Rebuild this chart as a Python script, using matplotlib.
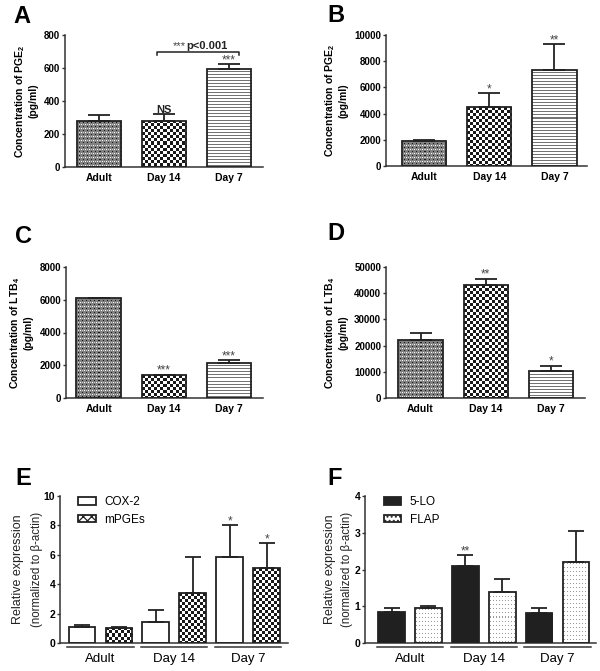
import numpy as np
import matplotlib
matplotlib.use('Agg')
import matplotlib.pyplot as plt
import matplotlib.transforms as mtransforms
from matplotlib.patches import Patch

plt.rcParams['font.family'] = 'Liberation Sans'
plt.rcParams['mathtext.default'] = 'regular'
plt.rcParams['hatch.linewidth'] = 0.9

INK = '#222222'
groups = ['Adult', 'Day 14', 'Day 7']

# A - PGE2
pge2_a = [280, 280, 595]
pge2_a_sem = [35, 40, 30]
pge2_a_marks = ['', 'NS', '***']
# B - PGE2
pge2_b = [1900, 4500, 7350]
pge2_b_sem = [80, 1050, 1950]
pge2_b_marks = ['', '*', '**']
# C - LTB4
ltb4_c = [6100, 1380, 2150]
ltb4_c_sem = [30, 50, 150]
ltb4_c_marks = ['', '***', '***']
# D - LTB4
ltb4_d = [22000, 43000, 10200]
ltb4_d_sem = [2800, 2500, 2200]
ltb4_d_marks = ['', '**', '*']
# E - relative expression
cox2 = [1.1, 1.42, 5.82]
cox2_sem = [0.1, 0.8, 2.2]
cox2_marks = ['', '', '*']
mpges = [1.03, 3.37, 5.07]
mpges_sem = [0.03, 2.5, 1.72]
mpges_marks = ['', '', '*']
# F - relative expression
lo5 = [0.85, 2.1, 0.81]
lo5_sem = [0.09, 0.29, 0.14]
lo5_marks = ['', '**', '']
flap = [0.95, 1.4, 2.2]
flap_sem = [0.07, 0.33, 0.85]
flap_marks = ['', '', '']

fig = plt.figure(figsize=(6.0, 6.71), dpi=100)


def box(left, right, top, bottom):
    # pixel box -> figure fraction
    return [left / 600, 1 - bottom / 671, (right - left) / 600, (bottom - top) / 671]


def pattern(kind, w, h):
    yy, xx = np.mgrid[0:h, 0:w]
    if kind == 'grain':
        img = np.full((h, w), 0.5)
        img[(xx % 4 == 0) & (yy % 4 == 0)] = 1.0
        img[(xx % 4 == 2) & (yy % 4 == 2)] = 0.1
        img[(xx % 4 == 2) & (yy % 4 == 0)] = 0.8
    elif kind == 'checker':
        img = np.where((xx // 3 + yy // 3) % 2 == 0, 0.1, 1.0)
    elif kind == 'lines':
        img = np.where(yy % 3 == 0, 0.45, 1.0)
    elif kind == 'dots':
        img = np.ones((h, w))
        img[(xx % 3 == 1) & (yy % 4 == 1)] = 0.6
    elif kind == 'solid':
        img = np.full((h, w), 0.13)
    else:
        img = np.ones((h, w))
    return img


def fill_bars(ax, bars, kinds):
    for bar, kind in zip(bars, kinds):
        bb = bar.get_window_extent()
        w = max(int(round(bb.width)), 1)
        h = max(int(round(bb.height)), 1)
        x0, y0 = bar.get_x(), bar.get_y()
        im = ax.imshow(pattern(kind, w, h), cmap='gray', vmin=0, vmax=1,
                       extent=(x0, x0 + bar.get_width(), y0, y0 + bar.get_height()),
                       aspect='auto', interpolation='nearest', zorder=2)
        im.set_clip_path(bar)


def draw_bars(ax, x, vals, sems, width, capsize):
    bars = ax.bar(x, vals, width, facecolor='none', edgecolor=INK, lw=1.3, zorder=3)
    ax.errorbar(x, vals, yerr=[np.zeros(len(vals)), sems], fmt='none', ecolor=INK,
                elinewidth=1.3, capsize=capsize, capthick=1.3, zorder=4)
    return bars


def add_marks(ax, x, vals, sems, marks):
    for xi, v, s, m in zip(x, vals, sems, marks):
        if not m:
            continue
        if m == 'NS':
            ax.annotate(m, (xi, v + s), xytext=(0, 1), textcoords='offset points',
                        ha='center', va='baseline', fontsize=8, fontweight='bold', color=INK)
        else:
            ax.annotate(m, (xi, v + s), xytext=(0, -1.5), textcoords='offset points',
                        ha='center', va='bottom', fontsize=8.5, color='#444444')


def style_axes(ax):
    for s in ['top', 'right']:
        ax.spines[s].set_visible(False)
    for s in ['left', 'bottom']:
        ax.spines[s].set_linewidth(1.1)
        ax.spines[s].set_color('#333333')
    ax.tick_params(axis='x', length=0)
    ax.tick_params(axis='y', length=2.5, width=1, color='#333333', pad=1)


def conc_panel(rect, xlim, vals, sems, marks, ymax, ystep, ylabel):
    ax = fig.add_axes(rect)
    x = np.arange(3)
    bars = draw_bars(ax, x, vals, sems, 0.68, 8)
    ax.set_xlim(*xlim)
    ax.set_ylim(0, ymax)
    fill_bars(ax, bars, ['grain', 'checker', 'lines'])
    ax.set_xlim(*xlim)
    ax.set_ylim(0, ymax)
    ax.set_yticks(np.arange(0, ymax + 1, ystep))
    ax.set_xticks(x)
    ax.set_xticklabels(groups, fontsize=7.5, fontweight='bold')
    for t in ax.get_yticklabels():
        t.set_fontsize(7)
        t.set_fontweight('bold')
    style_axes(ax)
    ax.tick_params(axis='x', pad=4)
    ax.set_ylabel(ylabel, fontsize=7.5, fontweight='bold', labelpad=4)
    add_marks(ax, x, vals, sems, marks)
    return ax


def expr_panel(rect, xlim, a, a_sem, a_marks, b, b_sem, b_marks, kinds, names, ymax, lab_x):
    ax = fig.add_axes(rect)
    x = np.arange(3)
    xa, xb = x - 0.25, x + 0.25
    bars_a = draw_bars(ax, xa, a, a_sem, 0.36, 5.5)
    bars_b = draw_bars(ax, xb, b, b_sem, 0.36, 5.5)
    ax.set_xlim(*xlim)
    ax.set_ylim(0, ymax)
    fill_bars(ax, bars_a, [kinds[0]] * 3)
    fill_bars(ax, bars_b, [kinds[1]] * 3)
    ax.set_xlim(*xlim)
    ax.set_ylim(0, ymax)
    ax.set_yticks(np.arange(0, ymax + 1, ymax // 5 if ymax > 5 else 1))
    ax.set_xticks(x)
    ax.set_xticklabels(groups, fontsize=9.5)
    for t in ax.get_yticklabels():
        t.set_fontsize(7.5)
        t.set_fontweight('bold')
    style_axes(ax)
    ax.tick_params(axis='x', pad=7)
    # group underlines
    trans = mtransforms.blended_transform_factory(ax.transData, ax.transAxes)
    for xi in x:
        ax.plot([xi - 0.45, xi + 0.45], [-0.027, -0.027], color='#333333', lw=1.1,
                transform=trans, clip_on=False)
    add_marks(ax, xa, a, a_sem, a_marks)
    add_marks(ax, xb, b, b_sem, b_marks)
    ax.text(lab_x[0], 0.5, 'Relative expression', rotation=90, ha='center', va='center',
            fontsize=9, transform=ax.transAxes, color=INK)
    ax.text(lab_x[1], 0.5, '(normalized to \u03b2-actin)', rotation=90, ha='center',
            va='center', fontsize=8.3, transform=ax.transAxes, color=INK)
    handles = []
    for kind, name in zip(kinds, names):
        if kind == 'solid':
            handles.append(Patch(facecolor='#222222', edgecolor=INK, lw=1.3, label=name))
        elif kind == 'checker':
            handles.append(Patch(facecolor='white', edgecolor=INK, lw=1.3, hatch='xxxx', label=name))
        elif kind == 'dots':
            handles.append(Patch(facecolor='white', edgecolor=INK, lw=1.3, hatch='....', label=name))
        else:
            handles.append(Patch(facecolor='white', edgecolor=INK, lw=1.3, label=name))
    ax.legend(handles=handles, loc='upper left', bbox_to_anchor=(0.06, 1.03), frameon=False,
              fontsize=8.5, handlelength=1.5, handleheight=0.6, handletextpad=0.7,
              labelspacing=0.45, borderaxespad=0)
    return ax


ax_a = conc_panel(box(65, 263, 35, 167), (-0.52, 2.52), pge2_a, pge2_a_sem, pge2_a_marks,
                  800, 200, 'Concentration of PGE$_2$\n(pg/ml)')
# bracket Day 14 vs Day 7
ax_a.plot([0.9, 0.9, 2.15, 2.15], [680, 700, 700, 680], color=INK, lw=1.1, clip_on=False)
ax_a.text(1.33, 713, '***', ha='right', va='baseline', fontsize=8, color='#444444')
ax_a.text(1.34, 713, 'p<0.001', ha='left', va='baseline', fontsize=8, fontweight='bold', color=INK)

conc_panel(box(386, 587, 35, 166), (-0.585, 2.5), pge2_b, pge2_b_sem, pge2_b_marks,
           10000, 2000, 'Concentration of PGE$_2$\n(pg/ml)')
conc_panel(box(66, 263, 267, 398), (-0.5, 2.52), ltb4_c, ltb4_c_sem, ltb4_c_marks,
           8000, 2000, 'Concentration of LTB$_4$\n(pg/ml)')
conc_panel(box(386, 585, 267, 398), (-0.53, 2.52), ltb4_d, ltb4_d_sem, ltb4_d_marks,
           50000, 10000, 'Concentration of LTB$_4$\n(pg/ml)')

expr_panel(box(60, 288, 496, 643), (-0.547, 2.54), cox2, cox2_sem, cox2_marks,
           mpges, mpges_sem, mpges_marks, ['white', 'checker'], ['COX-2', 'mPGEs'], 10,
           (-0.185, -0.1))
expr_panel(box(365, 596, 496, 643), (-0.61, 2.52), lo5, lo5_sem, lo5_marks,
           flap, flap_sem, flap_marks, ['solid', 'dots'], ['5-LO', 'FLAP'], 4,
           (-0.15, -0.08))

for letter, px, py in [('A', 13, 23), ('B', 327, 22), ('C', 15, 243),
                       ('D', 327, 240), ('E', 15, 485), ('F', 327, 485)]:
    fig.text(px / 600, 1 - py / 671, letter, fontsize=17, fontweight='bold',
             ha='left', va='baseline', color='black')

fig.savefig('out.png', dpi=100, facecolor='white')
